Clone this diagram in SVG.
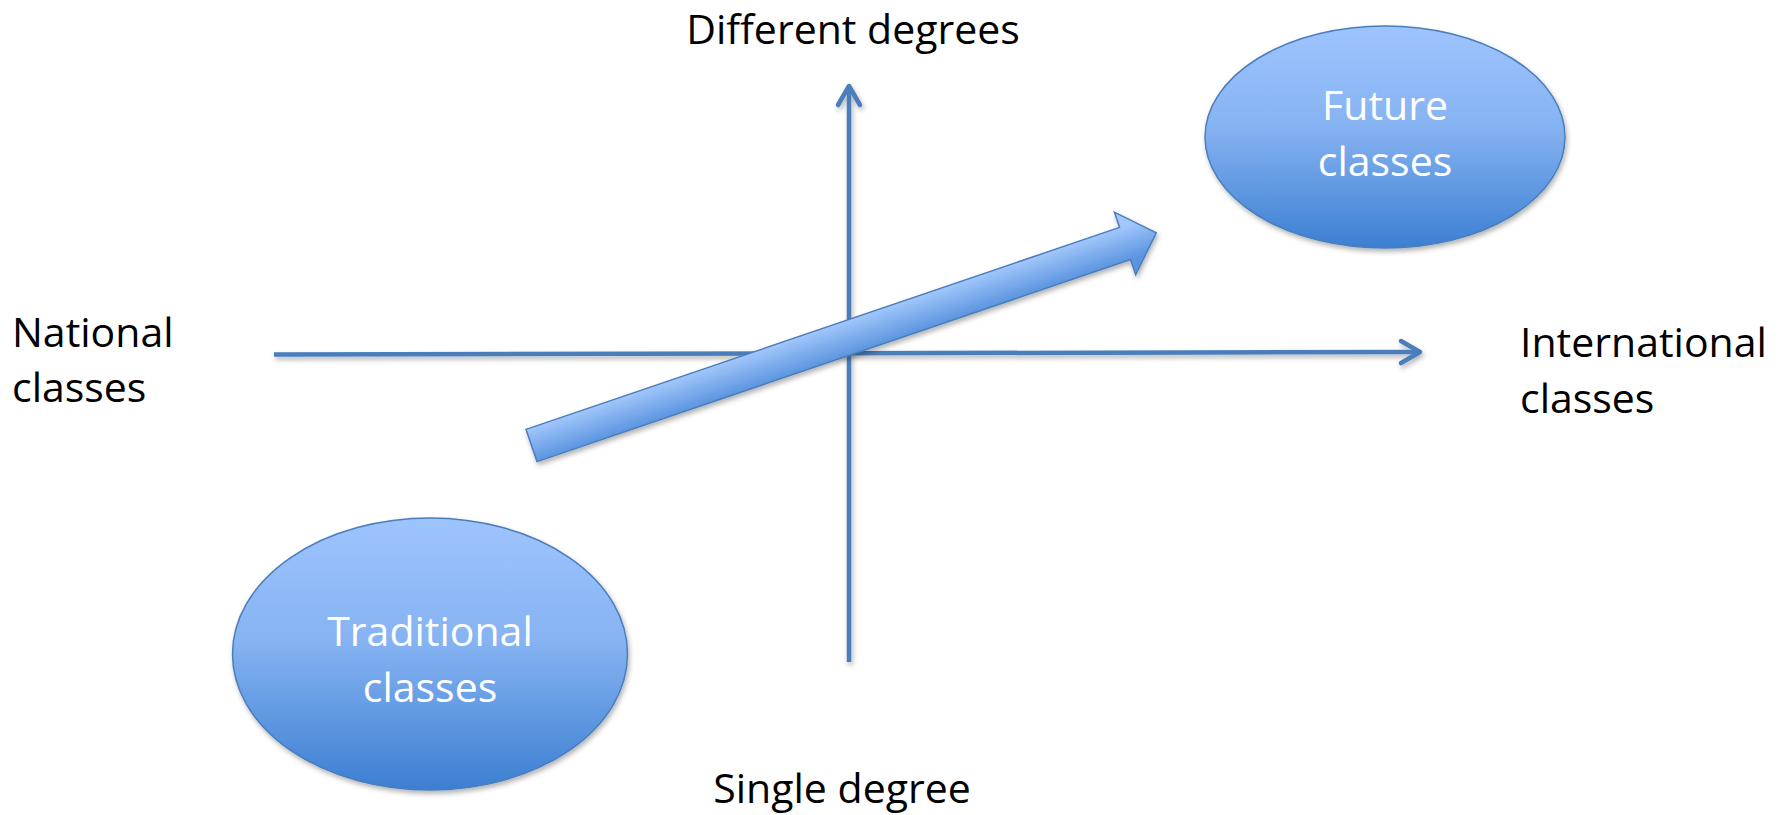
<svg xmlns="http://www.w3.org/2000/svg" width="1789" height="815" viewBox="0 0 1789 815">
  <style>
    .lbl { font-family: "Open Sans", "Liberation Sans", sans-serif; font-size: 41px; fill: #000000; }
    .nodeText { font-family: "Open Sans", "Liberation Sans", sans-serif; font-size: 41px; fill: #FFFFFF; text-anchor: middle; }
    .axis { stroke: #4A7EBB; stroke-width: 4.5; fill: none; }
    .oval { fill: url(#ovalGrad); stroke: #4A7EBB; stroke-width: 1.5; }
  </style>
  <defs>
    <linearGradient id="ovalGrad" x1="0" y1="0" x2="0" y2="1">
      <stop offset="0" stop-color="#9EC4FE"/>
      <stop offset="0.45" stop-color="#86B3F2"/>
      <stop offset="1" stop-color="#3C7FD2"/>
    </linearGradient>
    <linearGradient id="arrowGrad" gradientUnits="userSpaceOnUse" x1="0" y1="-17" x2="0" y2="17">
      <stop offset="0" stop-color="#A2C7FC"/>
      <stop offset="1" stop-color="#5C95DF"/>
    </linearGradient>
    <filter id="shadow" x="-10%" y="-10%" width="120%" height="130%">
      <feDropShadow dx="1.5" dy="3" stdDeviation="2.5" flood-color="#000000" flood-opacity="0.3"/>
    </filter>
    <marker id="openArrow" markerUnits="userSpaceOnUse" viewBox="-24 -15 30 30" refX="0" refY="0" markerWidth="30" markerHeight="30" orient="auto">
      <path d="M-19,-11 L0,0 L-19,11" fill="none" stroke="#4A7EBB" stroke-width="4.5" stroke-linecap="round" stroke-linejoin="round"/>
    </marker>
  </defs>
  <rect x="0" y="0" width="1789" height="815" fill="#FFFFFF"/>

  <g id="connectors" filter="url(#shadow)">
    <line class="axis" x1="274" y1="354.5" x2="1420" y2="352" marker-end="url(#openArrow)"/>
    <line class="axis" x1="849" y1="662" x2="849" y2="86" marker-end="url(#openArrow)"/>
  </g>

  <g id="block-arrow" filter="url(#shadow)">
    <polygon transform="translate(531.5,445.5) rotate(-18.8)" points="0,-17 627,-17 627,-33 660,0 627,33 627,17 0,17" fill="url(#arrowGrad)" stroke="#4A7EBB" stroke-width="1.5" stroke-linejoin="miter"/>
  </g>

  <g id="node-future">
    <ellipse class="oval" cx="1385" cy="137" rx="180" ry="111" filter="url(#shadow)"/>
    <text class="nodeText" x="1385" y="120">Future</text>
    <text class="nodeText" x="1385" y="176">classes</text>
  </g>

  <g id="node-traditional">
    <ellipse class="oval" cx="430" cy="654" rx="197.5" ry="136" filter="url(#shadow)"/>
    <text class="nodeText" x="430" y="646">Traditional</text>
    <text class="nodeText" x="430" y="702">classes</text>
  </g>

  <g id="label-different">
    <text class="lbl" x="853" y="44" text-anchor="middle">Different degrees</text>
  </g>
  <g id="label-single">
    <text class="lbl" x="842" y="803" text-anchor="middle">Single degree</text>
  </g>
  <g id="label-national">
    <text class="lbl" x="12" y="347">National</text>
    <text class="lbl" x="12" y="402">classes</text>
  </g>
  <g id="label-international">
    <text class="lbl" x="1520" y="357">International</text>
    <text class="lbl" x="1520" y="413">classes</text>
  </g>
</svg>
